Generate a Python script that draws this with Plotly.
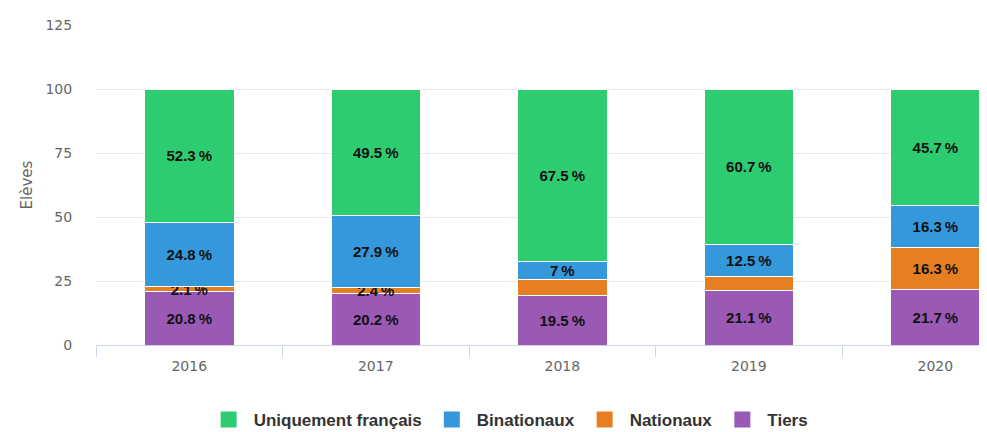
import plotly.graph_objects as go

years = ["2016", "2017", "2018", "2019", "2020"]
tiers = [20.8, 20.2, 19.5, 21.1, 21.7]
nationaux = [2.1, 2.4, 6.0, 5.7, 16.3]
binationaux = [24.8, 27.9, 7.0, 12.5, 16.3]
uniquement_francais = [52.3, 49.5, 67.5, 60.7, 45.7]
nationaux_label_shown = [True, True, False, False, True]

series = [
    ("Tiers", tiers, "#9b59b6", [True] * 5),
    ("Nationaux", nationaux, "#e67e22", nationaux_label_shown),
    ("Binationaux", binationaux, "#3498db", [True] * 5),
    ("Uniquement français", uniquement_francais, "#2ecc71", [True] * 5),
]

LABEL_FONT = "Liberation Sans Narrow, Liberation Sans, DejaVu Sans"

def fmt(v):
    s = ("%.1f" % v).rstrip("0").rstrip(".")
    return s + "\u202f%"

fig = go.Figure()
for name, vals, color, shown in series:
    fig.add_trace(go.Bar(
        name=name,
        x=years,
        y=vals,
        marker=dict(color=color, line=dict(color="#ffffff", width=1)),
        width=0.48,
        text=[fmt(v) if s else "" for v, s in zip(vals, shown)],
        textposition="inside",
        insidetextanchor="middle",
        textangle=0,
        constraintext="none",
        textfont=dict(family=LABEL_FONT, size=15, color="#111111", weight="bold"),
        cliponaxis=False,
        showlegend=False,
        legendgroup=name,
    ))

# legend entries with larger square swatches
for name, vals, color, shown in series:
    fig.add_trace(go.Scatter(
        name=name,
        x=[None],
        y=[None],
        mode="markers",
        marker=dict(symbol="square", size=16, color=color),
        legendgroup=name,
        showlegend=True,
        hoverinfo="skip",
    ))

fig.update_layout(
    barmode="stack",
    width=987,
    height=432,
    margin=dict(l=88, r=0, t=17, b=95, autoexpand=False),
    paper_bgcolor="#ffffff",
    plot_bgcolor="#ffffff",
    font=dict(family="DejaVu Sans", color="#666666", size=13),
    showlegend=True,
    legend=dict(
        orientation="h",
        traceorder="reversed",
        x=0.459,
        xanchor="center",
        y=-0.234,
        yanchor="middle",
        font=dict(family=LABEL_FONT, size=17, color="#333333", weight="bold"),
        itemwidth=40,
    ),
    xaxis=dict(
        type="category",
        range=[-0.5, 4.32],
        tickson="boundaries",
        ticks="outside",
        ticklen=11,
        tickcolor="#ccd6eb",
        showline=True,
        linecolor="#ccd6eb",
        linewidth=1,
        showgrid=False,
        automargin=False,
        ticklabelstandoff=8,
        tickfont=dict(family="DejaVu Sans", size=14, color="#666666"),
    ),
    yaxis=dict(
        range=[0, 125],
        tickvals=[0, 25, 50, 75, 100, 125],
        showgrid=True,
        gridcolor="#e6e6e6",
        zeroline=False,
        showline=False,
        automargin=False,
        ticks="outside",
        ticklen=20,
        tickcolor="rgba(0,0,0,0)",
        tickfont=dict(family="DejaVu Sans", size=14, color="#666666"),
        title=dict(text="Elèves", font=dict(family="DejaVu Sans", size=15, color="#666666"), standoff=9),
    ),
)

fig.write_html("out.html")
